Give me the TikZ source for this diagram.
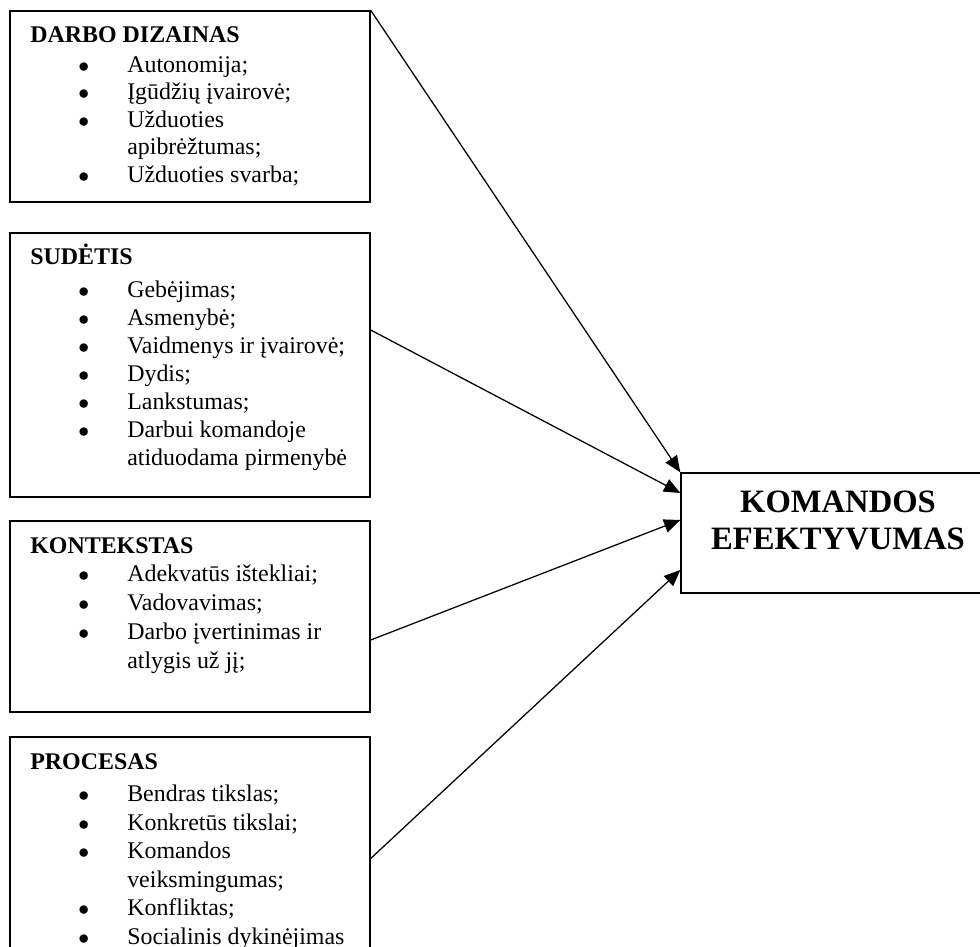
\documentclass[tikz,border=0pt]{standalone}
\usepackage{fontspec}
\setmainfont{Liberation Serif}
\usetikzlibrary{shapes,arrows.meta,calc}

\begin{document}
\begin{tikzpicture}[x=0.552pt,y=-0.552pt,
        box/.style={draw,line width=0.8pt,minimum width=198.7pt,inner sep=0pt},
        list/.style={anchor=base west,inner sep=0pt,font=\fontsize{13.2}{#1}\selectfont},
        arr/.style={-{Triangle[length=9pt,width=7.5pt]},line width=0.7pt}]
        \clip (0,0) rectangle (980,947);

        % left boxes
        \node[box,minimum height=105.4pt] (dizainas) at (190,106.5) {};
        \node[box,minimum height=145.7pt] (sudetis) at (190,365) {};
        \node[box,minimum height=105.4pt] (kontekstas) at (190,616.5) {};
        \node[box,minimum height=134.1pt] (procesas) at (190,858.5) {};

        \node[list=15.2pt] (dizainas-txt) at (30,43) {\begin{tabular}[t]{@{\hspace{26.5pt}}p{27pt}@{}l@{}}
            \multicolumn{2}{@{}l}{\textbf{DARBO DIZAINAS}}\\[1pt]
            $\bullet$ & Autonomija;\\
            $\bullet$ & Įgūdžių įvairovė;\\
            $\bullet$ & Užduoties\\
                      & apibrėžtumas;\\
            $\bullet$ & Užduoties svarba;
          \end{tabular}};
        \node[list=15.5pt] (sudetis-txt) at (30,265) {\begin{tabular}[t]{@{\hspace{26.5pt}}p{27pt}@{}l@{}}
            \multicolumn{2}{@{}l}{\textbf{SUDĖTIS}}\\[2.2pt]
            $\bullet$ & Gebėjimas;\\
            $\bullet$ & Asmenybė;\\
            $\bullet$ & Vaidmenys ir įvairovė;\\
            $\bullet$ & Dydis;\\
            $\bullet$ & Lankstumas;\\
            $\bullet$ & Darbui komandoje\\
                      & atiduodama pirmenybė
          \end{tabular}};
        \node[list=16pt] (kontekstas-txt) at (30,553) {\begin{tabular}[t]{@{\hspace{26.5pt}}p{27pt}@{}l@{}}
            \multicolumn{2}{@{}l}{\textbf{KONTEKSTAS}}\\
            $\bullet$ & Adekvatūs ištekliai;\\
            $\bullet$ & Vadovavimas;\\
            $\bullet$ & Darbo įvertinimas ir\\
                      & atlygis už jį;
          \end{tabular}};
        \node[list=15.7pt] (procesas-txt) at (30,769) {\begin{tabular}[t]{@{\hspace{26.5pt}}p{27pt}@{}l@{}}
            \multicolumn{2}{@{}l}{\textbf{PROCESAS}}\\[2.5pt]
            $\bullet$ & Bendras tikslas;\\
            $\bullet$ & Konkretūs tikslai;\\
            $\bullet$ & Komandos\\
                      & veiksmingumas;\\
            $\bullet$ & Konfliktas;\\
            $\bullet$ & Socialinis dykinėjimas
          \end{tabular}};

        % result box
        \node[box,minimum width=173.3pt,minimum height=66.2pt] (efekt) at (838,533) {};
        \node[align=center,inner sep=0pt,font=\fontsize{18}{20.5}\selectfont\bfseries] (efekt-txt) at (838,520.5) {KOMANDOS\\EFEKTYVUMAS};

        \draw[arr] (dizainas.north east) -- (efekt.north west);
        \draw[arr] ($(sudetis.east)+(0,-35)$) -- ($(efekt.west)+(0,-40)$);
        \draw[arr] ($(kontekstas.east)+(0,23.5)$) -- ($(efekt.west)+(0,-13)$);
        \draw[arr] (procesas.east) -- ($(efekt.west)+(0,37)$);
      \end{tikzpicture}
\end{document}
